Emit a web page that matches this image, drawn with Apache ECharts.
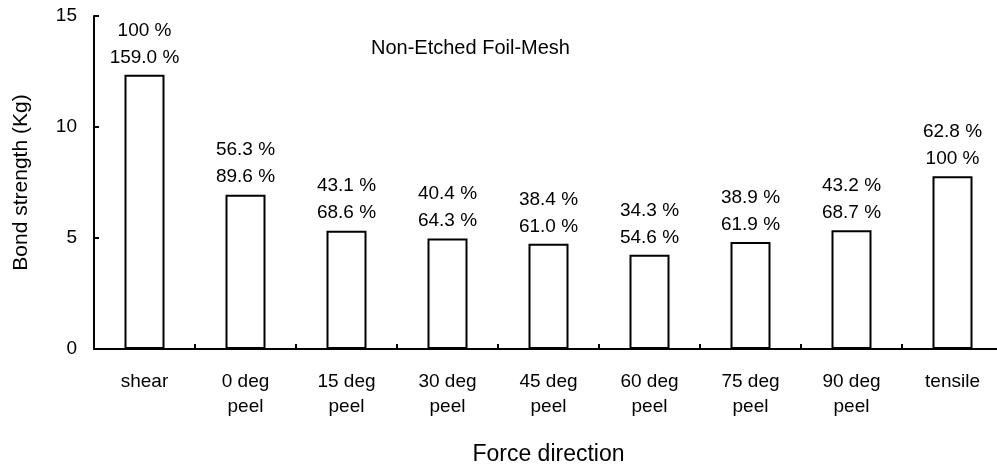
<!DOCTYPE html>
<html>
<head>
<meta charset="utf-8">
<script src="https://cdn.jsdelivr.net/npm/echarts@6/dist/echarts.min.js"></script>
<style>html,body{margin:0;padding:0;background:#fff;}#c{width:997px;height:466px;}</style>
</head>
<body>
<div id="c"></div>
<script>
const categories = ['shear', '0 deg\npeel', '15 deg\npeel', '30 deg\npeel', '45 deg\npeel', '60 deg\npeel', '75 deg\npeel', '90 deg\npeel', 'tensile'];
const strength = [12.35, 6.95, 5.33, 4.98, 4.74, 4.24, 4.82, 5.35, 7.78];
const pctOfShear = ['100 %', '56.3 %', '43.1 %', '40.4 %', '38.4 %', '34.3 %', '38.9 %', '43.2 %', '62.8 %'];
const pctOfTensile = ['159.0 %', '89.6 %', '68.6 %', '64.3 %', '61.0 %', '54.6 %', '61.9 %', '68.7 %', '100 %'];
const yTicks = [0, 5, 10, 15];

const FONT = 'Liberation Sans';
const chart = echarts.init(document.getElementById('c'));
chart.setOption({
  animation: false,
  backgroundColor: '#fff',
  textStyle: { fontFamily: FONT, color: '#000' },
  title: {
    text: 'Non-Etched Foil-Mesh',
    left: 366, top: 33,
    textStyle: { fontFamily: FONT, fontSize: 20, fontWeight: 'normal', color: '#000' }
  },
  grid: { left: 94, top: 16, width: 909, height: 333, containLabel: false, outerBoundsMode: 'none' },
  xAxis: {
    type: 'category',
    data: categories,
    name: 'Force direction',
    nameLocation: 'middle',
    nameGap: 94,
    nameTextStyle: { fontFamily: FONT, fontSize: 23, color: '#000' },
    axisLine: { lineStyle: { color: '#000', width: 2 } },
    axisTick: { show: true, inside: true, length: 5, lineStyle: { color: '#000', width: 2 } },
    axisLabel: { fontFamily: FONT, fontSize: 19, color: '#000', lineHeight: 25, margin: 20 },
    splitLine: { show: false }
  },
  yAxis: {
    type: 'value',
    min: yTicks[0], max: yTicks[yTicks.length - 1], interval: 5,
    name: 'Bond strength (Kg)',
    nameLocation: 'middle',
    nameRotate: 90,
    nameGap: 62,
    nameTextStyle: { fontFamily: FONT, fontSize: 21, color: '#000' },
    axisLine: { show: true, lineStyle: { color: '#000', width: 2 } },
    axisTick: { show: true, inside: true, length: 5, lineStyle: { color: '#000', width: 2 } },
    axisLabel: { fontFamily: FONT, fontSize: 19, color: '#000', margin: 17 },
    splitLine: { show: false }
  },
  series: [{
    type: 'bar',
    data: strength,
    barWidth: 40,
    itemStyle: { color: '#fff', borderColor: '#000', borderWidth: 2 },
    label: {
      show: true,
      position: 'top',
      distance: 4,
      fontFamily: FONT,
      fontSize: 19,
      lineHeight: 27,
      color: '#000',
      formatter: p => pctOfShear[p.dataIndex] + '\n' + pctOfTensile[p.dataIndex]
    }
  }]
});
</script>
</body>
</html>
